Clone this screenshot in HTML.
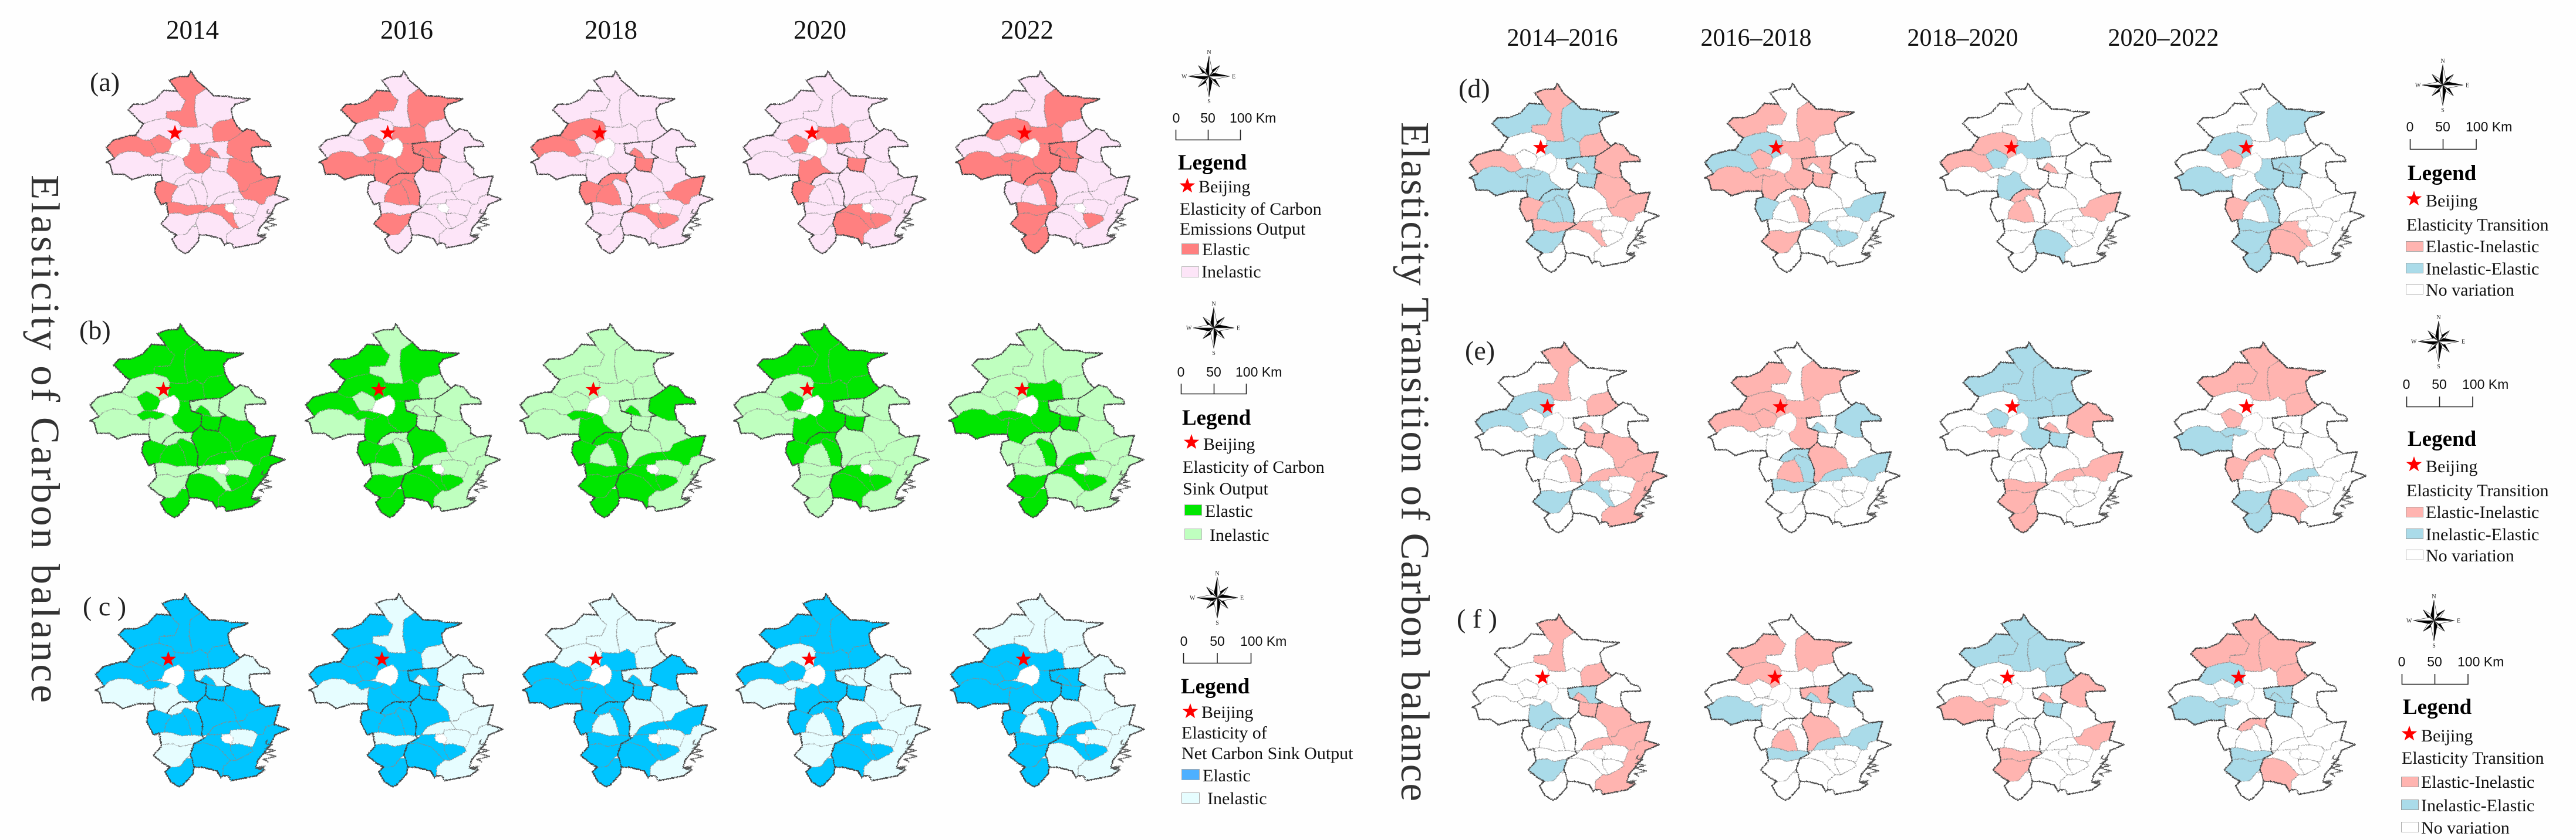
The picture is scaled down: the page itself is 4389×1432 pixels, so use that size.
<!DOCTYPE html>
<html lang="en">
<head>
<meta charset="utf-8">
<title>Elasticity of Carbon balance</title>
<style>
html,body{margin:0;padding:0;background:#fefefe;}
svg{display:block;font-family:"Liberation Serif",serif;}
.sans{font-family:"Liberation Sans",sans-serif;}
.hd{font-size:45px;fill:#111;text-anchor:middle;}
.pl{font-size:46px;fill:#222;}
.tt{font-size:69px;fill:#333;}
.lg{font-size:37px;font-weight:bold;fill:#000;}
.li{font-size:30px;fill:#111;}
.sc{font-size:23px;fill:#111;font-family:"Liberation Sans",sans-serif;}
.bar{fill:none;stroke:#222;stroke-width:1.6;}
</style>
</head>
<body>
<svg id="figure" xmlns="http://www.w3.org/2000/svg" width="4389" height="1432" viewBox="0 0 4389 1432">
<defs>
<filter id="rough" x="-5%" y="-5%" width="110%" height="110%" color-interpolation-filters="sRGB">
<feTurbulence type="fractalNoise" baseFrequency="0.18" numOctaves="2" seed="3" result="n"/>
<feDisplacementMap in="SourceGraphic" in2="n" scale="13" xChannelSelector="R" yChannelSelector="G"/>
</filter>
<polygon id="star" points="0,-14 3.3,-4.5 13.3,-4.3 5.3,1.7 8.2,11.3 0,5.6 -8.2,11.3 -5.3,1.7 -13.3,-4.3 -3.3,-4.5" fill="#ff0000"/>
<g id="arm"><polygon points="0,0 0,-35 -5.5,-8" fill="#000" stroke="#000" stroke-width=".5"/><polygon points="0,0 0,-35 5.5,-8" fill="#fff" stroke="#444" stroke-width=".7"/></g>
<g id="armd"><polygon points="0,0 0,-26 -5,-7" fill="#000" stroke="#000" stroke-width=".5"/><polygon points="0,0 0,-26 5,-7" fill="#fff" stroke="#444" stroke-width=".7"/></g>
<g id="compass">
<use href="#armd" transform="rotate(45)"/><use href="#armd" transform="rotate(135)"/><use href="#armd" transform="rotate(225)"/><use href="#armd" transform="rotate(315)"/>
<use href="#arm"/><use href="#arm" transform="rotate(90)"/><use href="#arm" transform="rotate(180)"/><use href="#arm" transform="rotate(270)"/>
<text x="0" y="-38" font-size="10" text-anchor="middle" fill="#222">N</text>
<text x="0" y="46" font-size="10" text-anchor="middle" fill="#222">S</text>
<text x="39" y="3.5" font-size="10" fill="#222">E</text>
<text x="-47" y="3.5" font-size="10" fill="#222">W</text>
</g>
</defs>

<rect x="0" y="0" width="4389" height="1432" fill="#fefefe"/>

<text class="hd" x="328" y="66">2014</text>
<text class="hd" x="693" y="66">2016</text>
<text class="hd" x="1041" y="66">2018</text>
<text class="hd" x="1397" y="66">2020</text>
<text class="hd" x="1750" y="66">2022</text>
<text class="hd" style="font-size:42px" x="2662" y="78">2014–2016</text>
<text class="hd" style="font-size:42px" x="2992" y="78">2016–2018</text>
<text class="hd" style="font-size:42px" x="3344" y="78">2018–2020</text>
<text class="hd" style="font-size:42px" x="3686" y="78">2020–2022</text>

<text class="tt" transform="translate(54,298) rotate(90)" textLength="900" lengthAdjust="spacing">Elasticity of Carbon balance</text>
<text class="tt" transform="translate(2388,208) rotate(90)" textLength="1158" lengthAdjust="spacing">Elasticity Transition of Carbon balance</text>

<text class="pl" x="153" y="155">(a)</text>
<text class="pl" x="135" y="578">(b)</text>
<text class="pl" x="141" y="1049" xml:space="preserve">( c )</text>
<text class="pl" x="2485" y="166">(d)</text>
<text class="pl" x="2496" y="613">(e)</text>
<text class="pl" x="2482" y="1070" xml:space="preserve">( f )</text>

<g id="maps"></g>

<!-- legend a -->
<g>
<use href="#compass" x="2060" y="130"/>
<text class="sc" x="2004" y="209" text-anchor="middle">0</text><text class="sc" x="2058" y="209" text-anchor="middle">50</text><text class="sc" x="2095" y="209">100 Km</text>
<path class="bar" d="M2003.500 221V238.500H2113.500V221M2058.500 221V238.500"/>
<text class="lg" x="2007" y="289">Legend</text>
<use href="#star" x="2023" y="317"/>
<text class="li" x="2042" y="328">Beijing</text>
<text class="li" x="2010" y="366">Elasticity of Carbon</text>
<text class="li" x="2010" y="400">Emissions Output</text>
<rect x="2013.500" y="415.500" width="29" height="18" fill="#ff8080" stroke="#aaa"/>
<text class="li" x="2048" y="435">Elastic</text>
<rect x="2013.500" y="454.500" width="29" height="18" fill="#fde5f8" stroke="#bbb"/>
<text class="li" x="2047" y="473">Inelastic</text>
</g>

<!-- legend b -->
<g>
<use href="#compass" x="2068" y="559"/>
<text class="sc" x="2012" y="642" text-anchor="middle">0</text><text class="sc" x="2068" y="642" text-anchor="middle">50</text><text class="sc" x="2105" y="642">100 Km</text>
<path class="bar" d="M2012.500 654V671.500H2123.500V654M2068.500 654V671.500"/>
<text class="lg" x="2014" y="724">Legend</text>
<use href="#star" x="2030" y="754"/>
<text class="li" x="2050" y="767">Beijing</text>
<text class="li" x="2015" y="806">Elasticity of Carbon</text>
<text class="li" x="2015" y="843">Sink Output</text>
<rect x="2018.500" y="860.500" width="29" height="18" fill="#00e600" stroke="#aaa"/>
<text class="li" x="2053" y="881">Elastic</text>
<rect x="2018.500" y="901.500" width="29" height="18" fill="#bfffbf" stroke="#bbb"/>
<text class="li" x="2061" y="922">Inelastic</text>
</g>

<!-- legend c -->
<g>
<use href="#compass" x="2074" y="1019"/>
<text class="sc" x="2017" y="1101" text-anchor="middle">0</text><text class="sc" x="2074" y="1101" text-anchor="middle">50</text><text class="sc" x="2113" y="1101">100 Km</text>
<path class="bar" d="M2016.500 1113V1130.500H2131.500V1113M2074 1113V1130.500"/>
<text class="lg" x="2012" y="1182">Legend</text>
<use href="#star" x="2028" y="1213"/>
<text class="li" x="2047" y="1224">Beijing</text>
<text class="li" x="2013" y="1259">Elasticity of</text>
<text class="li" x="2013" y="1294">Net Carbon Sink Output</text>
<rect x="2013.500" y="1311.500" width="30" height="18" fill="#4eb0ff" stroke="#aaa"/>
<text class="li" x="2049" y="1332">Elastic</text>
<rect x="2013.500" y="1351.500" width="30" height="18" fill="#e6fdff" stroke="#aaa"/>
<text class="li" x="2057" y="1371">Inelastic</text>
</g>

<!-- legend d -->
<g>
<use href="#compass" x="4162" y="145"/>
<text class="sc" x="4106" y="224" text-anchor="middle">0</text><text class="sc" x="4162" y="224" text-anchor="middle">50</text><text class="sc" x="4201" y="224">100 Km</text>
<path class="bar" d="M4106.500 237V254.500H4219V237M4162.500 237V254.500"/>
<text class="lg" x="4102" y="307">Legend</text>
<use href="#star" x="4113" y="339"/>
<text class="li" x="4133" y="352">Beijing</text>
<text class="li" x="4100" y="393">Elasticity Transition</text>
<rect x="4099.500" y="411.500" width="29" height="17" fill="#ffb4b0" stroke="#999"/>
<text class="li" x="4133" y="430">Elastic-Inelastic</text>
<rect x="4099.500" y="448.500" width="29" height="17" fill="#aadbe9" stroke="#999"/>
<text class="li" x="4133" y="468">Inelastic-Elastic</text>
<rect x="4099.500" y="484.500" width="29" height="17" fill="#fff" stroke="#aaa"/>
<text class="li" x="4133" y="504">No variation</text>
</g>

<!-- legend e -->
<g>
<use href="#compass" x="4155" y="582"/>
<text class="sc" x="4100" y="663" text-anchor="middle">0</text><text class="sc" x="4156" y="663" text-anchor="middle">50</text><text class="sc" x="4195" y="663">100 Km</text>
<path class="bar" d="M4100.500 676V693.500H4213V676M4156.500 676V693.500"/>
<text class="lg" x="4102" y="760">Legend</text>
<use href="#star" x="4113" y="792"/>
<text class="li" x="4133" y="805">Beijing</text>
<text class="li" x="4100" y="846">Elasticity Transition</text>
<rect x="4099.500" y="864.500" width="29" height="17" fill="#ffb4b0" stroke="#999"/>
<text class="li" x="4133" y="883">Elastic-Inelastic</text>
<rect x="4099.500" y="901.500" width="29" height="17" fill="#aadbe9" stroke="#999"/>
<text class="li" x="4133" y="921">Inelastic-Elastic</text>
<rect x="4099.500" y="937.500" width="29" height="17" fill="#fff" stroke="#aaa"/>
<text class="li" x="4133" y="957">No variation</text>
</g>

<!-- legend f -->
<g>
<use href="#compass" x="4147" y="1058"/>
<text class="sc" x="4092" y="1136" text-anchor="middle">0</text><text class="sc" x="4148" y="1136" text-anchor="middle">50</text><text class="sc" x="4187" y="1136">100 Km</text>
<path class="bar" d="M4092.500 1149V1166.500H4205V1149M4148.500 1149V1166.500"/>
<text class="lg" x="4094" y="1217">Legend</text>
<use href="#star" x="4105" y="1251"/>
<text class="li" x="4125" y="1264">Beijing</text>
<text class="li" x="4092" y="1302">Elasticity Transition</text>
<rect x="4091.500" y="1324.500" width="29" height="17" fill="#ffb4b0" stroke="#999"/>
<text class="li" x="4125" y="1343">Elastic-Inelastic</text>
<rect x="4091.500" y="1363.500" width="29" height="17" fill="#aadbe9" stroke="#999"/>
<text class="li" x="4125" y="1383">Inelastic-Elastic</text>
<rect x="4091.500" y="1401.500" width="29" height="17" fill="#fff" stroke="#aaa"/>
<text class="li" x="4125" y="1421">No variation</text>
</g>
</svg>

<script>
// Class per region (32 regions). Rows a-c: 0 inelastic, 1 elastic.
const a2014 = [1,0,0,0,0,1,1,1, 0,1,0,0,1,0,1,0, 1,0,1,0,0,1,0,0, 1,0,0,0,1,0,0,0];
const a2016 = [0,1,1,0,1,0,0,0, 1,1,1,1,1,1,1,1, 0,0,0,0,1,0,1,1, 0,1,0,0,0,0,0,0];
const a2018 = [0,0,0,1,0,0,0,1, 0,0,0,0,0,0,1,1, 0,0,1,0,1,1,1,0, 0,0,0,0,1,0,1,0];
const a2020 = [0,0,0,0,1,0,0,0, 0,1,0,1,0,0,0,1, 0,0,0,0,0,1,0,0, 0,0,0,1,1,0,1,0];
const a2022 = [0,0,1,1,1,0,0,0, 1,0,1,1,1,1,1,1, 0,0,0,0,1,0,0,1, 1,1,1,0,0,0,1,0];

const b2014 = [1,1,1,0,1,1,0,0, 0,1,1,0,1,0,1,1, 1,1,1,1,0,1,1,1, 0,0,1,1,0,0,1,1];
const b2016 = [0,1,1,1,1,0,0,1, 0,0,1,1,1,0,0,0, 0,1,0,0,0,1,1,0, 0,1,1,1,1,0,1,0];
const b2018 = [0,0,0,0,0,0,1,0, 0,0,1,1,0,0,1,0, 0,0,1,1,1,1,0,1, 1,1,1,1,1,0,1,0];
const b2020 = [1,1,1,0,1,1,0,0, 0,1,0,1,1,0,0,1, 0,0,0,0,1,1,0,1, 0,0,0,1,1,0,1,0];
const b2022 = [0,0,0,0,1,0,0,0, 1,0,1,1,1,0,0,1, 0,0,0,1,0,0,0,1, 0,1,1,0,1,0,1,0];

const c2014 = [1,1,1,1,1,1,0,1, 0,1,1,0,1,0,1,1, 1,1,1,1,0,1,1,1, 0,0,1,1,1,0,1,1];
const c2016 = [0,1,1,1,1,0,0,1, 0,1,1,1,1,1,0,1, 0,1,0,0,1,1,1,1, 0,1,1,1,1,0,1,0];
const c2018 = [0,0,0,0,1,0,1,1, 1,1,1,1,1,0,1,1, 0,0,1,1,1,1,0,1, 1,1,1,1,1,0,1,0];
const c2020 = [1,1,1,0,1,1,0,1, 0,1,0,1,1,0,0,1, 0,0,0,1,1,1,0,1, 0,0,1,1,1,0,1,0];
const c2022 = [0,0,0,1,1,0,0,1, 1,1,1,1,1,1,1,1, 0,0,0,1,0,1,0,1, 1,1,1,0,1,0,1,0];

// Rows d-f: 0 no variation, 1 elastic-inelastic, 2 inelastic-elastic.
const d1416 = [1,2,2,0,2,1,1,1, 2,0,2,2,0,2,0,2, 1,0,1,0,2,1,2,2, 1,2,0,0,1,0,0,0];
const d1618 = [0,1,1,2,1,0,0,2, 1,1,1,1,1,1,0,1, 0,0,2,0,0,2,0,1, 0,1,0,0,2,0,2,0];
const d1820 = [0,0,0,1,2,0,0,1, 0,2,0,2,0,0,1,0, 0,0,1,0,1,0,1,0, 0,0,0,2,0,0,0,0];
const d2022 = [0,0,2,2,0,0,0,0, 2,1,0,0,2,2,2,2, 0,0,0,0,2,1,0,2, 2,2,2,1,1,0,0,0];

const e1416 = [1,0,0,2,0,1,0,2, 0,0,0,2,0,0,1,1, 1,0,1,1,0,0,0,1, 0,2,0,0,2,0,0,1];
const e1618 = [0,1,1,1,1,0,2,1, 0,1,0,0,1,0,2,0, 0,1,2,2,2,0,1,2, 2,0,0,0,0,0,0,0];
const e1820 = [2,2,2,0,2,2,1,0, 0,2,1,0,2,0,1,2, 0,0,1,1,0,0,0,0, 1,1,1,0,0,0,0,0];
const e2022 = [1,1,1,0,0,1,0,0, 2,1,2,0,0,0,0,0, 0,0,0,2,1,1,0,0, 0,2,2,1,0,0,0,0];

const f1416 = [1,0,0,0,0,1,0,0, 0,0,0,2,0,2,1,1, 1,0,1,1,2,0,0,0, 0,2,0,0,0,0,0,1];
const f1618 = [0,1,1,1,0,0,2,0, 2,0,0,0,0,1,2,0, 0,1,2,2,0,0,1,0, 2,0,0,0,0,0,0,0];
const f1820 = [2,2,2,0,0,2,1,0, 1,0,1,0,0,0,1,2, 0,0,1,0,0,0,0,0, 1,1,0,0,0,0,0,0];
const f2022 = [1,1,1,2,0,1,0,0, 2,0,2,0,0,2,2,2, 0,0,0,0,1,0,0,0, 2,2,0,1,0,0,0,0];

const paletteA = ['#fde5f8','#ff8080'];
const paletteB = ['#bfffbf','#00e600'];
const paletteC = ['#e6fdff','#00c5ff'];
const paletteT = ['#ffffff','#ffb4b0','#aadbe9'];

// Map base geometry (shared by every small multiple).
const regionShapes = [
"625,215 640,240 660,270 710,310 650,350 645,430 660,500 660,520 600,520 570,515 555,490 490,470 490,435 570,430 595,375 565,350 550,325 505,265 560,245 610,245",
"280,425 310,395 370,395 430,370 475,320 550,325 565,350 595,375 570,430 490,435 490,470 430,480 365,500 345,490",
"710,310 750,350 830,352 860,362 950,365 925,380 870,395 845,425 855,470 830,480 770,490 740,525 700,500 660,520 660,500 645,430 650,350",
"365,500 430,480 490,470 555,490 570,515 560,590 520,610 510,590 450,560 400,590 365,590 320,565",
"570,515 600,520 660,520 700,500 740,525 750,600 690,610 620,610 590,580 560,590",
"740,525 770,490 830,480 855,470 875,510 910,545 860,580 830,595 750,600",
"910,545 930,528 975,540 1010,585 1055,600 1065,625 1010,625 960,630 955,660 970,710 920,710 860,685 820,660 830,595 860,580",
"160,630 200,590 290,565 320,565 365,590 400,590 420,625 440,660 400,680 370,680 340,655 280,650 230,665 205,690",
"160,710 205,690 230,665 280,650 340,655 370,680 400,680 430,710 470,695 460,780 380,780 300,805 260,775 195,775 180,720",
"400,590 450,560 510,590 520,610 505,650 470,660 440,660 420,625",
"400,680 440,660 470,660 505,665 550,675 530,695 500,705 470,695 430,710",
"470,695 500,705 530,695 550,675 580,690 590,725 650,770 600,770 550,800 530,830 470,810 460,780",
"620,610 670,610 680,660 735,680 730,735 690,770 650,770 590,725 580,690 610,670 620,640",
"670,610 690,610 750,600 830,595 820,660 860,685 835,690 785,690 770,660 730,630 700,665 680,660",
"700,665 730,630 770,660 785,690 735,680 680,660",
"735,680 785,690 835,690 820,765 750,755 730,735",
"835,690 860,685 920,710 970,710 1010,745 1010,775 1045,795 1000,810 950,830 930,865 890,870 880,820 820,765",
"690,770 730,735 750,755 820,765 880,820 890,870 830,875 770,900 740,940 710,945 715,880 700,840 680,800",
"1045,795 1115,785 1095,850 1085,885 1040,900 1030,935 1000,940 980,920 920,910 890,870 930,865 950,830 1000,810",
"740,940 770,900 830,875 890,870 920,910 860,915 855,935 815,935",
"550,800 600,770 650,770 690,770 680,800 700,840 685,825 630,800 610,810 610,825 555,840 530,830",
"425,870 435,820 470,810 530,830 555,840 520,890 520,925 490,930 460,940",
"520,890 555,840 610,825 640,870 660,940 605,945 560,930 520,925",
"610,825 610,810 630,800 685,825 700,840 715,880 710,945 660,940 640,870",
"490,930 520,925 560,930 605,945 660,940 710,945 725,955 670,985 600,1000 560,985 500,990",
"460,1045 500,1000 500,990 560,985 600,1000 670,985 650,1045 630,1060 600,1100 570,1105 545,1105 510,1085",
"520,1130 545,1105 570,1105 600,1100 630,1060 660,1060 670,1105 665,1140 610,1200 590,1205 550,1180",
"650,1045 670,985 725,980 790,1000 830,1040 860,1070 820,1105 820,1150 810,1160 790,1125 710,1105 670,1105 660,1060",
"725,955 740,940 815,935 810,960 860,990 860,1020 890,1070 860,1070 830,1040 790,1000 725,980 670,985",
"855,935 860,915 920,910 980,920 1000,940 975,1000 960,1000 900,985 860,990 875,960",
"860,990 900,985 960,1000 975,1020 950,1040 890,1070 860,1020",
"820,1105 860,1070 890,1070 950,1040 975,1020 960,1000 975,1000 1000,940 1030,935 1040,900 1085,885 1165,910 1090,940 1060,1000 1000,1070 990,1110 1030,1110 1035,1120 990,1150 860,1175 850,1150 820,1150"
];
const holeShapes = [
"505,650 520,610 560,590 590,580 620,610 620,640 610,670 580,690 550,675 505,665",
"812,950 830,937 855,935 875,960 862,985 830,980 812,965"
];
const outerShape = "625,215 640,240 660,270 710,310 750,350 830,352 860,362 950,365 925,380 870,395 845,425 855,470 875,510 910,545 930,528 975,540 1010,585 1055,600 1065,625 1010,625 960,630 955,660 970,710 1010,745 1010,775 1045,795 1115,785 1095,850 1085,885 1165,910 1090,940 1060,1000 1000,1070 990,1110 1030,1110 1035,1120 990,1150 860,1175 850,1150 820,1150 810,1160 790,1125 710,1105 670,1105 665,1140 610,1200 590,1205 550,1180 520,1130 545,1105 510,1085 460,1045 500,1000 500,990 490,930 460,940 425,870 435,820 470,810 460,780 380,780 300,805 260,775 195,775 180,720 160,710 205,690 160,630 200,590 290,565 320,565 365,500 345,490 280,425 310,395 370,395 430,370 475,320 550,325 505,265 560,245 610,245";
const provinceLines = [
"670,610 750,600 830,595 860,580 910,545",
"830,595 820,660 860,685 835,690 820,765 750,755 730,735 690,770 650,770 600,770 550,800 530,830",
"690,770 680,800 700,840 715,880 710,945 725,955 670,985 650,1045 660,1060 670,1105",
"670,610 680,660 735,680 730,735"
];
const coastLines = [
"1050,965 1042,985 1075,990 1040,1010 1090,1020 1035,1035 1095,1050 1030,1065 1055,1078",
"1000,1105 1040,1100 1005,1115 1038,1122"
];

const yearSeries = {
 a:[a2014,a2016,a2018,a2020,a2022],
 b:[b2014,b2016,b2018,b2020,b2022],
 c:[c2014,c2016,c2018,c2020,c2022],
 d:[d1416,d1618,d1820,d2022],
 e:[e1416,e1618,e1820,e2022],
 f:[f1416,f1618,f1820,f2022]
};
const rowPalette = {a:paletteA,b:paletteB,c:paletteC,d:paletteT,e:paletteT,f:paletteT};
// Placement of the small multiples: left edges, top, size.
const rowLayout = {
 a:{left:[179.5,542,903,1265,1627],top:121,w:315,h:311},
 b:{left:[152,519,884.5,1249,1615],top:552,w:336,h:330},
 c:{left:[161,525,889,1253,1618],top:1012,w:334,h:329},
 d:{left:[2502,2903,3304,3704],top:142,w:327,h:322},
 e:{left:[2512,2909,3304,3703],top:583,w:331,h:325},
 f:{left:[2507,2903,3299,3693],top:1047,w:322,h:317}
};

const NS='http://www.w3.org/2000/svg';
function mk(tag,parent,attrs){
  const el=document.createElementNS(NS,tag);
  for(const k in attrs) el.setAttribute(k,attrs[k]);
  parent.appendChild(el);
  return el;
}
const mapsRoot=document.getElementById('maps');
function xScale(L,x){return L.left+(x-155)/1015*L.w;}
Object.keys(yearSeries).forEach(function(row){
  const layout=rowLayout[row], pal=rowPalette[row];
  yearSeries[row].forEach(function(values,i){
    const L={left:layout.left[i],w:layout.w};
    const sx=layout.w/1015, sy=layout.h/990;
    const wrap=mk('g',mapsRoot,{});
    
    
    const g=mk('g',wrap,{transform:'translate('+L.left+','+layout.top+') scale('+sx+','+sy+') translate(-155,-215)',filter:'url(#rough)'});
    regionShapes.forEach(function(pts,r){
      const p=mk('polygon',g,{points:pts,fill:pal[values[r]],stroke:'#8a8a8a','stroke-width':2.6,'stroke-linejoin':'round'});
      
      
    });
    holeShapes.forEach(function(pts){
      const h=mk('polygon',g,{points:pts,fill:'#ffffff',stroke:'#bbbbbb','stroke-width':1.5});
      
      
    });
    if(!(row==='a'&&i===0)){
      provinceLines.forEach(function(pts){
        const l=mk('polyline',g,{points:pts,fill:'none',stroke:'#444','stroke-width':5.5,'stroke-linejoin':'round'});
        
        
      });
    }
    const o=mk('polygon',g,{points:outerShape,fill:'none',stroke:'#444','stroke-width':6.5,'stroke-linejoin':'round'});
    
    
    coastLines.forEach(function(pts){
      const c=mk('polyline',g,{points:pts,fill:'none',stroke:'#555','stroke-width':5});
      
      
    });
    const s=mk('use',wrap,{href:'#star',x:xScale(L,537),y:layout.top+(552-215)*sy});
    
    
  });
});
</script>
</body>
</html>
